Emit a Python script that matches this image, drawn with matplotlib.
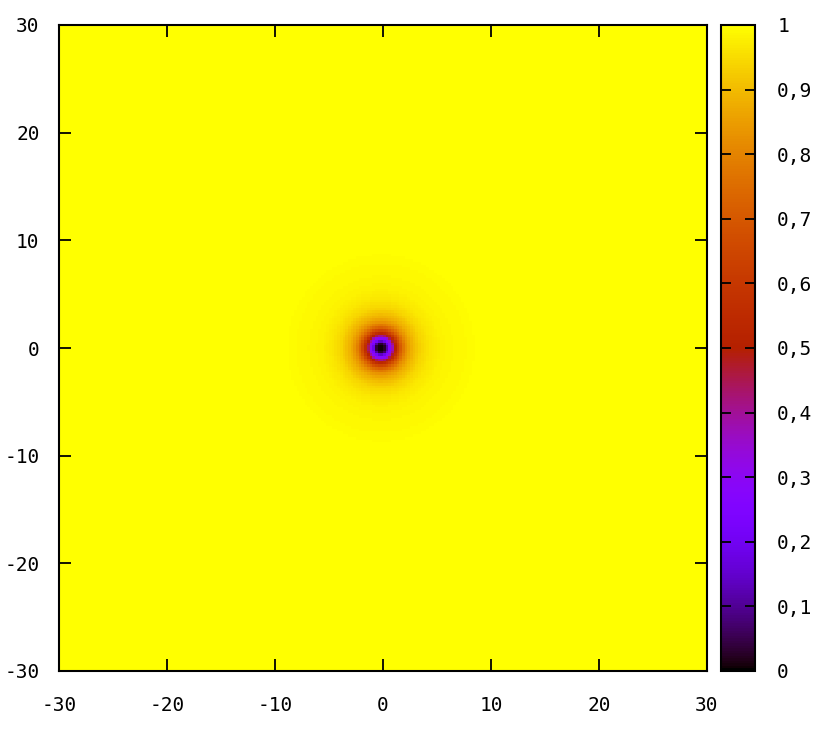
import numpy as np
import matplotlib.pyplot as plt

plt.rcParams['axes.unicode_minus'] = False
plt.rcParams['font.family'] = ['DejaVu Sans Mono']

# radial profile of the map around the core
radius = [0.0, 0.25, 0.45, 0.6, 0.8, 1.0, 1.15, 1.35, 1.6, 1.9, 2.3, 2.8, 3.7, 4.5, 5.5, 7.0, 8.6, 8.8, 40.0]
density = [0.0, 0.01, 0.04, 0.12, 0.25, 0.32, 0.42, 0.53, 0.63, 0.73, 0.82, 0.88, 0.94, 0.965, 0.982, 0.99, 0.994, 1.0, 1.0]
core_x = -0.2
core_y = 0.0
grid_step = 0.25

x_ticks = [-30, -20, -10, 0, 10, 20, 30]
y_ticks = [-30, -20, -10, 0, 10, 20, 30]
cb_ticks = [0, 0.1, 0.2, 0.3, 0.4, 0.5, 0.6, 0.7, 0.8, 0.9, 1]
cb_labels = ['0', '0,1', '0,2', '0,3', '0,4', '0,5', '0,6', '0,7', '0,8', '0,9', '1']

edges = np.arange(-30, 30 + grid_step / 2, grid_step)
centers = (edges[:-1] + edges[1:]) / 2
X, Y = np.meshgrid(centers, centers)
R = np.hypot(X - core_x, Y - core_y)
Z = np.interp(R, radius, density)

W, H = 826, 736
fig = plt.figure(figsize=(W / 100, H / 100), dpi=100)
ax = fig.add_axes([59 / W, 1 - 671 / H, (707 - 59) / W, (671 - 25) / H])
cax = fig.add_axes([721 / W, 1 - 671 / H, (755 - 721) / W, (671 - 25) / H])

mesh = ax.pcolormesh(edges, edges, Z, cmap='gnuplot', vmin=0, vmax=1,
                     shading='flat', antialiased=False, rasterized=True)
ax.set_xlim(-30, 30)
ax.set_ylim(-30, 30)
ax.set_xticks(x_ticks)
ax.set_yticks(y_ticks)
ax.tick_params(direction='in', length=8.5, width=1.3, top=True, right=True,
               labelsize=14, colors='black')
ax.tick_params(axis='x', pad=18)
ax.tick_params(axis='y', pad=14)
for s in ax.spines.values():
    s.set_linewidth(1.5)

cb = fig.colorbar(mesh, cax=cax)
cb.set_ticks(cb_ticks)
cb.set_ticklabels(cb_labels)
cb.outline.set_linewidth(1.5)
cax.tick_params(direction='in', length=7, width=1.3, left=True, right=True,
                labelsize=14, pad=16)

fig.savefig('out.png', dpi=100)
